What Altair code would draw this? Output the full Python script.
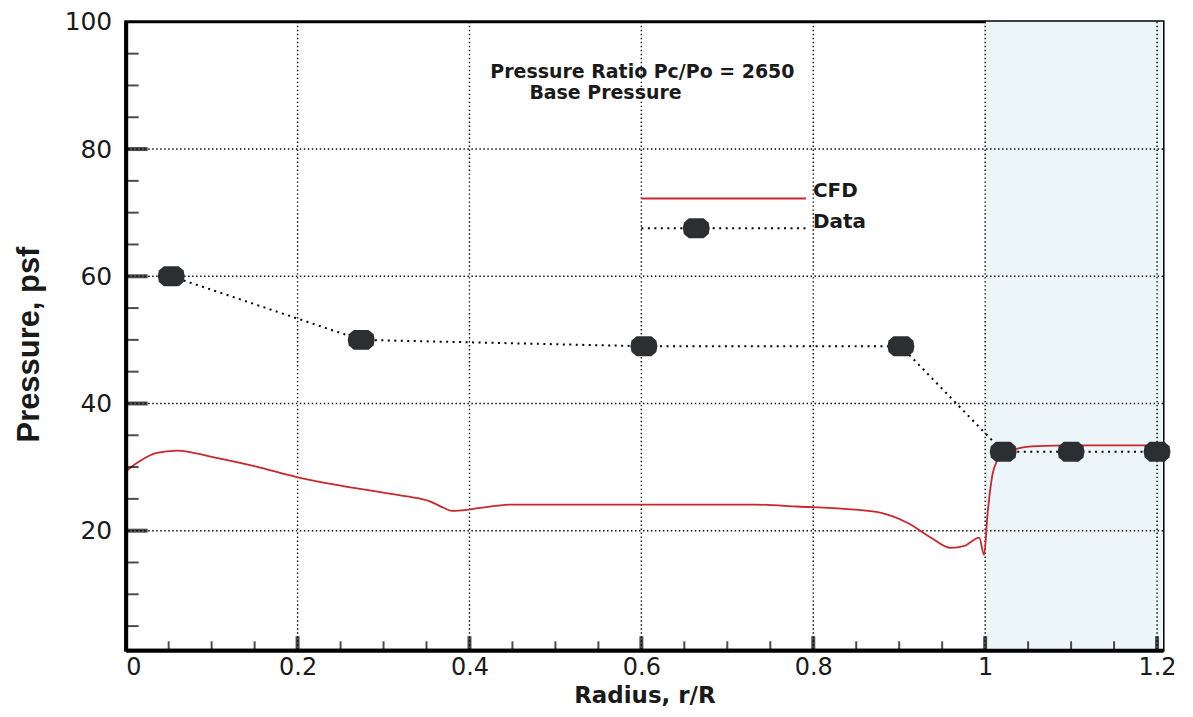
import altair as alt
import pandas as pd

# CFD curve
cfd_r = [0.0, 0.016, 0.035, 0.06, 0.10, 0.151, 0.20, 0.25, 0.318, 0.34, 0.356, 0.37, 0.38,
         0.39, 0.403, 0.43, 0.449, 0.60, 0.732, 0.782, 0.840, 0.879, 0.910, 0.937, 0.960,
         0.976, 0.983, 0.993, 0.9988, 1.0027, 1.0085, 1.0143, 1.022, 1.0375, 1.061,
         1.10, 1.207]
cfd_p = [29.3, 30.9, 32.2, 32.6, 31.6, 30.1, 28.4, 27.1, 25.6, 25.1, 24.5, 23.6, 23.1,
         23.2, 23.4, 23.9, 24.1, 24.1, 24.1, 23.8, 23.4, 22.8, 21.2, 18.9, 17.3,
         17.6, 18.2, 18.9, 16.2, 22.5, 28.8, 31.1, 32.2, 32.9, 33.3,
         33.4, 33.4]

# measured data
data_r = [0.053, 0.274, 0.603, 0.902, 1.021, 1.10, 1.20]
data_p = [60.0, 50.0, 49.0, 49.0, 32.4, 32.4, 32.4]

x_major = [0.2, 0.4, 0.6, 0.8, 1.0, 1.2]
x_labels = [0, 0.2, 0.4, 0.6, 0.8, 1.0, 1.2]
x_minor = [0.05, 0.1, 0.15, 0.25, 0.3, 0.35, 0.45, 0.5, 0.55, 0.65, 0.7, 0.75,
           0.85, 0.9, 0.95, 1.05, 1.1, 1.15]
y_major = [20, 40, 60, 80]
y_labels = [20, 40, 60, 80, 100]
y_minor = [5, 10, 15, 25, 30, 35, 45, 50, 55, 65, 70, 75, 85, 90, 95]
shade_r = [1.0, 1.207]
x_domain = [0, 1.207]
y_domain = [1.2, 100]

title_lines = ["Pressure Ratio Pc/Po = 2650", "Base Pressure"]
legend_labels = ["CFD", "Data"]

W, H = 1040, 630
RED = "#c8282e"
PT = "#2b2f31"
ELLIPSE = ("M-0.55,-0.74 L0.55,-0.74 L0.92,-0.42 L1,0 L0.92,0.42 L0.55,0.74 "
           "L-0.55,0.74 L-0.92,0.42 L-1,0 L-0.92,-0.42 Z")

xs = alt.Scale(domain=x_domain, nice=False, zero=False)
ys = alt.Scale(domain=y_domain, nice=False, zero=False)

cfd_df = pd.DataFrame({"r": cfd_r, "p": cfd_p})
data_df = pd.DataFrame({"r": data_r, "p": data_p})
shade_df = pd.DataFrame({"r0": [shade_r[0]], "r1": [shade_r[1]],
                         "p0": [y_domain[0]], "p1": [y_domain[1]]})

x_axis = alt.Axis(values=x_labels, format="~r", grid=False, ticks=False, domain=True,
                  domainColor="black", domainWidth=4, labelFont="DejaVu Sans",
                  labelFontSize=24, labelColor="#1a1a1a", labelPadding=5,
                  title="Radius, r/R", titleFont="DejaVu Sans", titleFontSize=23,
                  titleFontWeight="bold", titleColor="#1a1a1a", titleX=520, titleY=45,
                  titleBaseline="middle", titleAlign="center", zindex=2)
y_axis = alt.Axis(values=y_labels, format="d", grid=False, ticks=False, domain=True,
                  domainColor="black", domainWidth=4, labelFont="DejaVu Sans",
                  labelFontSize=25, labelColor="#1a1a1a", labelPadding=14,
                  title="Pressure, psf", titleFont="Liberation Sans",
                  titleFontSize=31, titleFontWeight="bold", titleColor="#1a1a1a",
                  titleX=-96, titleY=323, titleAngle=-90, titleBaseline="middle",
                  titleAlign="center", zindex=2)

shade = alt.Chart(shade_df).mark_rect(color="#ecf5f7").encode(
    x=alt.X("r0:Q", scale=xs, axis=x_axis), x2="r1:Q",
    y=alt.Y("p0:Q", scale=ys, axis=y_axis), y2="p1:Q")

grid_x = alt.Chart(pd.DataFrame({"v": x_major})).mark_rule(
    color="black", strokeWidth=1.4, strokeDash=[1.4, 2.6]).encode(
    x=alt.X("v:Q", scale=xs))
grid_y = alt.Chart(pd.DataFrame({"v": y_major})).mark_rule(
    color="black", strokeWidth=1.4, strokeDash=[1.4, 2.6]).encode(
    y=alt.Y("v:Q", scale=ys))

data_line = alt.Chart(data_df).mark_line(
    color="black", strokeWidth=2, strokeDash=[2, 4.5]).encode(
    x=alt.X("r:Q", scale=xs), y=alt.Y("p:Q", scale=ys))
cfd_line = alt.Chart(cfd_df).mark_line(color=RED, strokeWidth=1.8, interpolate="monotone").encode(
    x=alt.X("r:Q", scale=xs), y=alt.Y("p:Q", scale=ys), order="r:Q")
data_pts = alt.Chart(data_df).mark_point(
    shape=ELLIPSE, size=729, filled=True, color=PT, opacity=1).encode(
    x=alt.X("r:Q", scale=xs), y=alt.Y("p:Q", scale=ys))

# inward ticks
xt_major = alt.Chart(pd.DataFrame({"v": x_major})).mark_tick(
    orient="vertical", size=14, thickness=4, color="black", yOffset=-7).encode(
    x=alt.X("v:Q", scale=xs), y=alt.datum(y_domain[0], scale=ys))
xt_minor = alt.Chart(pd.DataFrame({"v": x_minor})).mark_tick(
    orient="vertical", size=9, thickness=2, color="black", yOffset=-4.5).encode(
    x=alt.X("v:Q", scale=xs), y=alt.datum(y_domain[0], scale=ys))
yt_major = alt.Chart(pd.DataFrame({"v": y_major})).mark_tick(
    orient="horizontal", size=22, thickness=4, color="black", xOffset=11).encode(
    y=alt.Y("v:Q", scale=ys), x=alt.datum(x_domain[0], scale=xs))
yt_minor = alt.Chart(pd.DataFrame({"v": y_minor})).mark_tick(
    orient="horizontal", size=13, thickness=2, color="black", xOffset=6.5).encode(
    y=alt.Y("v:Q", scale=ys), x=alt.datum(x_domain[0], scale=xs))

# annotation title
t1 = alt.Chart(pd.DataFrame({"t": [title_lines[0]]})).mark_text(
    font="DejaVu Sans", fontSize=19, fontWeight="bold", color="#1a1a1a",
    align="center", baseline="middle").encode(
    x=alt.value(518), y=alt.value(50), text="t:N")
t2 = alt.Chart(pd.DataFrame({"t": [title_lines[1]]})).mark_text(
    font="DejaVu Sans", fontSize=19, fontWeight="bold", color="#1a1a1a",
    align="center", baseline="middle").encode(
    x=alt.value(481), y=alt.value(71), text="t:N")

# legend
one = pd.DataFrame({"k": [0]})
leg_cfd = alt.Chart(one).mark_rule(color=RED, strokeWidth=2).encode(
    x=alt.value(517), x2=alt.value(682), y=alt.value(177))
leg_data = alt.Chart(one).mark_rule(color="black", strokeWidth=2, strokeDash=[2, 4.5]).encode(
    x=alt.value(517), x2=alt.value(682), y=alt.value(207))
leg_pt = alt.Chart(one).mark_point(shape=ELLIPSE, size=729, filled=True, color=PT,
                                   opacity=1).encode(x=alt.value(572), y=alt.value(207))
leg_txt = alt.Chart(pd.DataFrame({"t": legend_labels, "yy": [170, 201]})).mark_text(
    font="DejaVu Sans", fontSize=20, fontWeight="bold", color="#1a1a1a",
    align="left", baseline="middle").encode(
    x=alt.value(689), y=alt.Y("yy:Q", scale=None), text="t:N")

chart = alt.layer(
    shade, grid_x, grid_y, data_line, cfd_line, data_pts,
    xt_major, xt_minor, yt_major, yt_minor, t1, t2,
    leg_cfd, leg_data, leg_pt, leg_txt
).properties(
    width=W, height=H,
    autosize=alt.AutoSizeParams(type="none"),
    padding={"left": 118, "top": 13, "right": 22, "bottom": 58},
    background="white"
).configure_view(stroke="black", strokeWidth=3)

chart.save("out.html", embed_options={"renderer": "svg", "actions": False})
